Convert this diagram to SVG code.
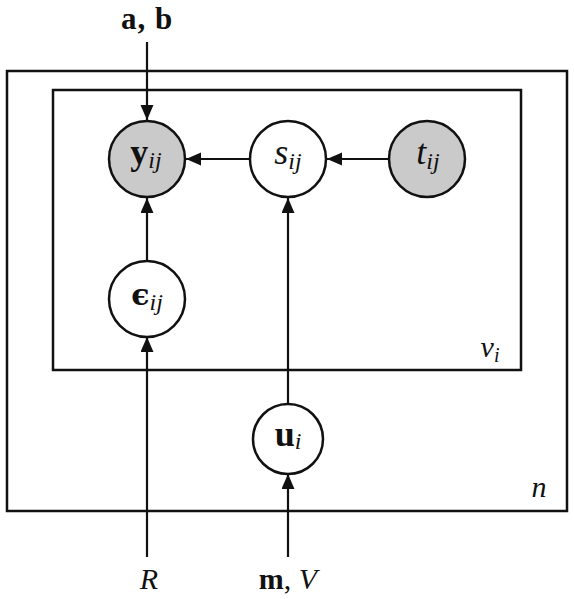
<svg xmlns="http://www.w3.org/2000/svg" width="574" height="599" viewBox="0 0 574 599">
<style>
.plate{fill:none;stroke:#111;stroke-width:2.5}
.node{stroke:#111;stroke-width:2.5;fill:#fff}
.obs{fill:#cacaca}
.edge{stroke:#111;stroke-width:2.2;fill:none;marker-end:url(#ah)}
.t{font-family:"Liberation Serif","DejaVu Serif",serif;fill:#111;text-anchor:middle}
.it{font-style:italic}
.b{font-weight:bold}
</style>
<defs>
<marker id="ah" markerUnits="userSpaceOnUse" markerWidth="16" markerHeight="14" refX="15" refY="6.5" orient="auto">
<path d="M0,0 L15,6.5 L0,13 z" fill="#111"/>
</marker>
</defs>
<rect width="574" height="599" fill="#fff"/>
<g id="plate-n">
<rect class="plate" x="7" y="71" width="560" height="440"/>
<text class="t it" x="539" y="497" font-size="30">n</text>
</g>
<g id="plate-v">
<rect class="plate" x="53" y="90" width="468" height="280"/>
<text class="t it" x="490" y="357" font-size="30">v<tspan font-size="20" dy="5">i</tspan></text>
</g>
<g id="connectors">
<line class="edge" x1="147" y1="42" x2="147" y2="120"/>
<line class="edge" x1="250" y1="159" x2="186" y2="159"/>
<line class="edge" x1="389" y1="159" x2="327" y2="159"/>
<line class="edge" x1="147" y1="260" x2="147" y2="198"/>
<line class="edge" x1="147" y1="557" x2="147" y2="337"/>
<line class="edge" x1="288" y1="403" x2="288" y2="198"/>
<line class="edge" x1="288" y1="557" x2="288" y2="474"/>
</g>
<g id="label-ab">
<text class="t b" x="147" y="29" font-size="31" letter-spacing="1">a, b</text>
</g>
<g id="node-y">
<circle class="node obs" cx="147" cy="159" r="38"/>
<text class="t" x="146" y="164" font-size="36"><tspan font-weight="bold">y</tspan><tspan class="it" font-size="24" dy="4">ij</tspan></text>
</g>
<g id="node-s">
<circle class="node" cx="288" cy="159" r="38"/>
<text class="t" x="288" y="164" font-size="36"><tspan class="it">s</tspan><tspan class="it" font-size="24" dy="5">ij</tspan></text>
</g>
<g id="node-t">
<circle class="node obs" cx="427" cy="159" r="38"/>
<text class="t" x="428" y="164" font-size="36"><tspan class="it">t</tspan><tspan class="it" font-size="24" dy="5">ij</tspan></text>
</g>
<g id="node-eps">
<circle class="node" cx="147" cy="299" r="38"/>
<text class="t" x="147" y="305" font-size="36"><tspan font-weight="bold" font-family="DejaVu Serif,serif" font-size="30">ϵ</tspan><tspan class="it" font-size="24" dy="5">ij</tspan></text>
</g>
<g id="node-u">
<circle class="node" cx="288" cy="439" r="35"/>
<text class="t" x="288" y="446" font-size="36"><tspan font-weight="bold">u</tspan><tspan class="it" font-size="24" dy="3">i</tspan></text>
</g>
<g id="label-R">
<text class="t it" x="149" y="589" font-size="30">R</text>
</g>
<g id="label-mV">
<text class="t" x="288" y="589" font-size="30"><tspan font-weight="bold">m</tspan>, <tspan class="it">V</tspan></text>
</g>
</svg>
